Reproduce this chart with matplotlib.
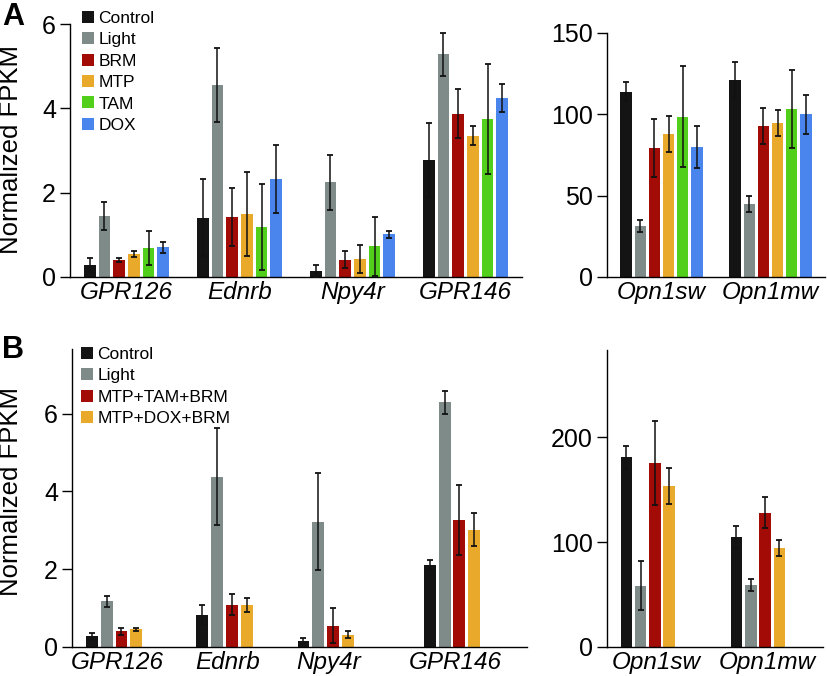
import numpy as np
import matplotlib.pyplot as plt
from matplotlib.patches import Patch

plt.rcParams['font.family'] = ['Liberation Sans', 'DejaVu Sans']

# ---------------- data ----------------
genes_left = ['GPR126', 'Ednrb', 'Npy4r', 'GPR146']
genes_right = ['Opn1sw', 'Opn1mw']

groups_a = ['Control', 'Light', 'BRM', 'MTP', 'TAM', 'DOX']
colors_a = ['#141414', '#7f8b89', '#a20b06', '#e9aa2c', '#52cf1b', '#4a85ee']

# rows = genes, columns = groups
mean_a_left = [[0.29, 1.44, 0.41, 0.55, 0.69, 0.71],
               [1.41, 4.55, 1.42, 1.49, 1.19, 2.32],
               [0.14, 2.25, 0.41, 0.43, 0.73, 1.01],
               [2.78, 5.28, 3.87, 3.35, 3.75, 4.25]]
err_a_left = [[0.16, 0.33, 0.05, 0.07, 0.40, 0.13],
              [0.91, 0.87, 0.69, 1.00, 1.02, 0.81],
              [0.14, 0.65, 0.20, 0.34, 0.70, 0.09],
              [0.88, 0.51, 0.58, 0.23, 1.30, 0.33]]
mean_a_right = [[114.0, 31.5, 79.5, 88.0, 98.6, 79.9],
                [121.0, 45.0, 92.6, 94.7, 103.3, 100.0]]
err_a_right = [[5.6, 3.8, 17.8, 11.0, 31.0, 13.0],
               [11.0, 5.0, 11.0, 8.2, 24.0, 12.0]]

groups_b = ['Control', 'Light', 'MTP+TAM+BRM', 'MTP+DOX+BRM']
colors_b = ['#141414', '#7f8b89', '#a20b06', '#e9aa2c']

mean_b_left = [[0.27, 1.17, 0.40, 0.45],
               [0.83, 4.38, 1.09, 1.07],
               [0.16, 3.22, 0.55, 0.32],
               [2.12, 6.29, 3.27, 3.02]]
err_b_left = [[0.09, 0.15, 0.10, 0.04],
              [0.24, 1.24, 0.27, 0.18],
              [0.08, 1.25, 0.46, 0.10],
              [0.12, 0.30, 0.90, 0.42]]
mean_b_right = [[180.6, 58.5, 175.2, 153.3],
                [105.1, 59.0, 127.9, 94.6]]
err_b_right = [[10.8, 23.0, 40.0, 17.5],
               [10.5, 6.0, 14.6, 7.6]]

# ---------------- layout ----------------
W, H = 827, 676
step = 0.13
width = 0.105


def box(x0, y0, x1, y1):
    return [x0 / W, 1 - y1 / H, (x1 - x0) / W, (y1 - y0) / H]


def draw(ax, means, errs, colors, genes, pos, xlim, ylim, yticks, lab_shift=0.0):
    means = np.array(means)
    errs = np.array(errs)
    for j in range(means.shape[1]):
        x = np.array(pos) + (j - 2.5) * step
        ax.bar(x, means[:, j], width, color=colors[j], zorder=2)
        ax.errorbar(x, means[:, j], yerr=errs[:, j], fmt='none', ecolor='#111111',
                    elinewidth=1.1, capsize=2, capthick=1.3, zorder=3)
    ax.set_xlim(*xlim)
    ax.set_ylim(*ylim)
    ax.set_yticks(yticks)
    ax.set_xticks(np.array(pos) + lab_shift)
    ax.set_xticklabels(genes, fontstyle='italic', fontsize=17.5)
    ax.tick_params(axis='x', length=0, pad=3)
    ax.tick_params(axis='y', length=7, width=1, pad=3, labelsize=18, direction='out')
    for s in ['top', 'right']:
        ax.spines[s].set_visible(False)
    for s in ['left', 'bottom']:
        ax.spines[s].set_linewidth(1)


fig = plt.figure(figsize=(W / 100, H / 100), dpi=100)

ax1 = fig.add_axes(box(70, 24, 522, 277))
draw(ax1, mean_a_left, err_a_left, colors_a, genes_left, [0, 1, 2, 3],
     (-0.5, 3.5), (0, 6), [0, 2, 4, 6])
ax2 = fig.add_axes(box(607, 33, 825, 277))
draw(ax2, mean_a_right, err_a_right, colors_a, genes_right, [0, 1],
     (-0.5, 1.5), (0, 150), [0, 50, 100, 150])

ax3 = fig.add_axes(box(72, 349, 527, 647))
draw(ax3, mean_b_left, err_b_left, colors_b, genes_left, [0, 0.97, 1.86, 2.97],
     (-0.5, 3.5), (0, 7.66), [0, 2, 4, 6], lab_shift=-0.1)
ax4 = fig.add_axes(box(607, 350, 823, 647))
draw(ax4, mean_b_right, err_b_right, colors_b, genes_right, [0, 1],
     (-0.5, 1.46), (0, 283), [0, 100, 200], lab_shift=-0.05)

# legends
handles_a = [Patch(facecolor=c, edgecolor='none') for c in colors_a]
ax1.legend(handles_a, groups_a, loc='upper left', bbox_to_anchor=(12 / 452, 1 + 13 / 253),
           frameon=False, fontsize=12.5, handlelength=0.69, handleheight=0.69,
           handletextpad=0.25, labelspacing=0.36, borderpad=0, borderaxespad=0)
handles_b = [Patch(facecolor=c, edgecolor='none') for c in colors_b]
ax3.legend(handles_b, groups_b, loc='upper left', bbox_to_anchor=(9 / 455, 1 + 2 / 298),
           frameon=False, fontsize=12.5, handlelength=0.69, handleheight=0.69,
           handletextpad=0.25, labelspacing=0.36, borderpad=0, borderaxespad=0)

# y labels and panel letters
fig.text(11 / W, 1 - 150 / H, 'Normalized FPKM', rotation=90, ha='center', va='center', fontsize=18.5)
fig.text(11 / W, 1 - 491 / H, 'Normalized FPKM', rotation=90, ha='center', va='center', fontsize=18.5)
fig.text(2 / W, 1 - 25 / H, 'A', fontsize=22, fontweight='bold', va='baseline')
fig.text(2 / W, 1 - 358 / H, 'B', fontsize=22, fontweight='bold', va='baseline')

fig.savefig('out.png', dpi=100)
